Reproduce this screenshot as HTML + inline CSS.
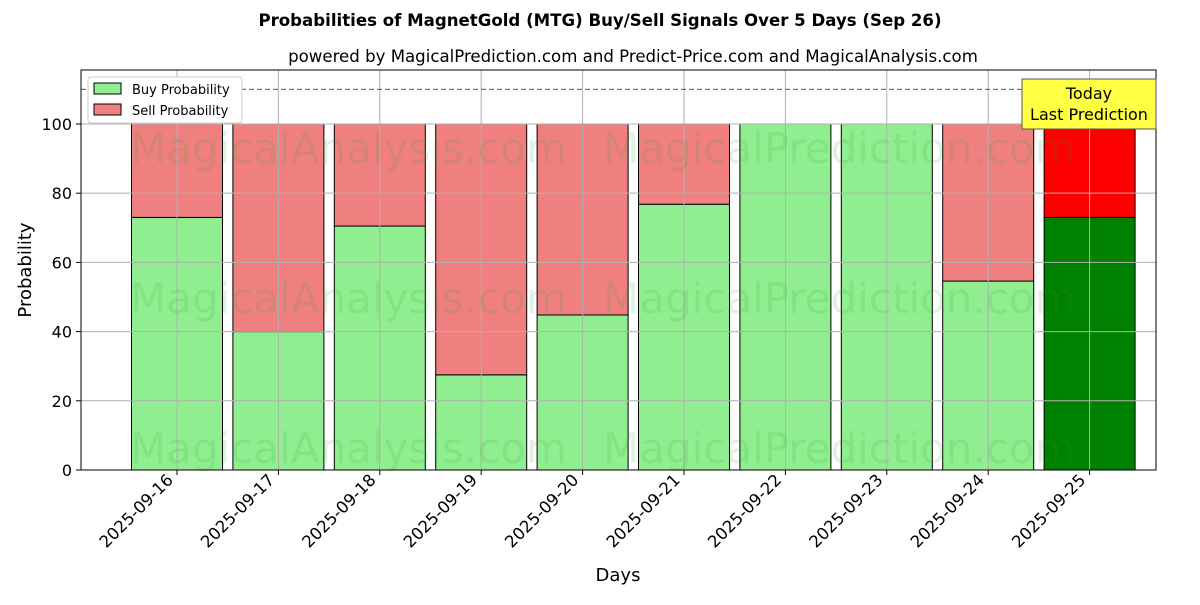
<!DOCTYPE html>
<html><head><meta charset="utf-8"><style>
body{margin:0;background:#fff;font-family:"Liberation Sans","DejaVu Sans",sans-serif}
svg text{font-family:"DejaVu Sans","Liberation Sans",sans-serif}
</style></head><body>
<svg id="chart" width="1200" height="600" xmlns="http://www.w3.org/2000/svg">
<rect width="1200" height="600" fill="#fff"/>
<text x="600" y="26" text-anchor="middle" font-size="16.6" font-weight="bold">Probabilities of MagnetGold (MTG) Buy/Sell Signals Over 5 Days (Sep 26)</text>
<text x="633" y="62" text-anchor="middle" font-size="16.6">powered by MagicalPrediction.com and Predict-Price.com and MagicalAnalysis.com</text>
<g id="bars"></g>
<g id="grid"></g>
<g id="wm" fill="#2ca02c" opacity="0.13" font-size="42">
<text x="130" y="163">MagicalAnalysis.com</text>
<text x="603" y="163">MagicalPrediction.com</text>
<text x="130" y="313">MagicalAnalysis.com</text>
<text x="603" y="313">MagicalPrediction.com</text>
<text x="130" y="463">MagicalAnalysis.com</text>
<text x="603" y="463">MagicalPrediction.com</text>
</g>
<line id="thr" x1="81" x2="1156" stroke="#777" stroke-dasharray="5,3" stroke-width="1.2"/>
<rect x="81" y="70" width="1075" height="400" fill="none" stroke="#000" stroke-width="1"/>
<g id="axes"></g>
<text transform="translate(31,270) rotate(-90)" text-anchor="middle" font-size="18">Probability</text>
<text x="618" y="581" text-anchor="middle" font-size="18">Days</text>
<g>
<rect x="88" y="77" width="154" height="46" fill="#fff" stroke="#ccc" rx="3"/>
<rect x="94" y="83" width="27" height="11" fill="#90ee90" stroke="#000"/>
<text x="132" y="94" font-size="13">Buy Probability</text>
<rect x="94" y="104" width="27" height="11" fill="#f08080" stroke="#000"/>
<text x="132" y="115" font-size="13">Sell Probability</text>
</g>
<g>
<rect x="1022" y="79" width="134" height="50" fill="#ffff44" stroke="#555"/>
<text x="1089" y="99" text-anchor="middle" font-size="16">Today</text>
<text x="1089" y="120" text-anchor="middle" font-size="16">Last Prediction</text>
</g>
</svg>
<script>
const categories=["2025-09-16","2025-09-17","2025-09-18","2025-09-19","2025-09-20","2025-09-21","2025-09-22","2025-09-23","2025-09-24","2025-09-25"];
const buyValues=[73,40,70.5,27.5,44.8,76.8,100,100,54.6,73];
const sellValues=[27,60,29.5,72.5,55.2,23.2,0,0,45.4,27];
const yTicks=[0,20,40,60,80,100];
const threshold=110;
const NS="http://www.w3.org/2000/svg";
const L=81,R=1156,T=70,B=470,YMAX=115.6;
const y=v=>B-v/YMAX*(B-T);
const step=101.4,x0=177;
const x=i=>x0+i*step;
const bw=91;
function mk(tag,attrs,parent){const e=document.createElementNS(NS,tag);for(const k in attrs)e.setAttribute(k,attrs[k]);parent.appendChild(e);return e;}
const grid=document.getElementById('grid'),bars=document.getElementById('bars'),axes=document.getElementById('axes');
yTicks.forEach(t=>{
 const g=mk('line',{x1:L,x2:R,y1:y(t),y2:y(t),stroke:'#b0b0b0','stroke-width':1},grid);
 
 
 mk('line',{x1:L-5,x2:L,y1:y(t),y2:y(t),stroke:'#000'},axes);
 const tx=mk('text',{x:L-9,y:y(t)+6,'text-anchor':'end','font-size':16},axes);tx.textContent=t;
 
 
});
categories.forEach((c,i)=>{
 const g=mk('line',{x1:x(i),x2:x(i),y1:T,y2:B,stroke:'#b0b0b0','stroke-width':1},grid);
 
 
 const last=i===categories.length-1;
 const b=mk('rect',{x:x(i)-bw/2,y:y(buyValues[i]),width:bw,height:y(0)-y(buyValues[i]),fill:last?'#008000':'#90ee90',stroke:'#000','stroke-width':1},bars);
 
 
 if(sellValues[i]>0){
 const s=mk('rect',{x:x(i)-bw/2,y:y(buyValues[i]+sellValues[i]),width:bw,height:y(buyValues[i])-y(buyValues[i]+sellValues[i]),fill:last?'#ff0000':'#f08080',stroke:'#000','stroke-width':1},bars);
 
 }
 mk('line',{x1:x(i),x2:x(i),y1:B,y2:B+5,stroke:'#000'},axes);
 const tx=mk('text',{transform:`translate(${x(i)-3},${B+11}) rotate(-45)`,'text-anchor':'end','font-size':16.5},axes);tx.textContent=c;
 
 
});
const thr=document.getElementById('thr');thr.setAttribute('y1',y(threshold));thr.setAttribute('y2',y(threshold));
</script>
</body></html>
